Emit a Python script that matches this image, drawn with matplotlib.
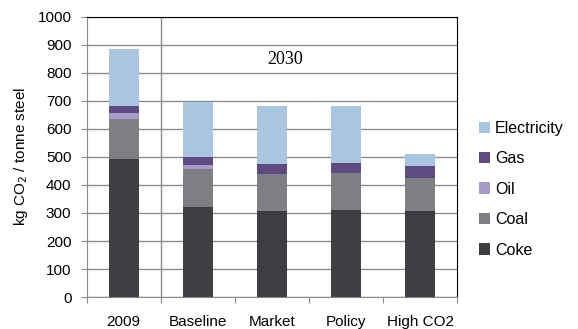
#!/usr/bin/env python3

import matplotlib.pyplot as plt
import numpy as np

# CO2 intensity of steel by energy carrier, kg CO2 per tonne
scenarios = [ '2009', 'Baseline', 'Market', 'Policy', 'High CO2' ]
coke = [ 493, 320, 308, 311, 306 ]
coal = [ 142, 136, 131, 131, 118 ]
oil = [ 22, 14, 0, 0, 0 ]
gas = [ 25, 29, 36, 38, 45 ]
electricity = [ 202, 197, 205, 202, 41 ]

layers = [ ( 'Coke', coke, '#3d3e42' ),
           ( 'Coal', coal, '#7e7f83' ),
           ( 'Oil', oil, '#a99bc9' ),
           ( 'Gas', gas, '#5f4b82' ),
           ( 'Electricity', electricity, '#a9c5e1' ) ]

plt.rcParams['font.family'] = [ 'Liberation Sans', 'DejaVu Sans' ]
fig = plt.figure( figsize = ( 5.78, 3.29 ), dpi = 100 )
ax = fig.add_axes( [ 0.150, 0.097, 0.641, 0.852 ] )

x = np.arange( len( scenarios ) )
bottom = np.zeros( len( scenarios ) )
handles = []
for name, values, color in layers:
    bars = ax.bar( x, values, width = 0.4, bottom = bottom, color = color, label = name, zorder = 2 )
    bottom += np.array( values )
    handles.append( bars )

ax.set_xlim( -0.5, len( scenarios ) - 0.5 )
ax.set_ylim( 0, 1000 )
ax.set_yticks( np.arange( 0, 1001, 100 ) )
ax.yaxis.grid( True, color = '#8c8c8c', linewidth = 1.0, zorder = 0 )
ax.set_axisbelow( True )

# category labels between the boundary ticks
ax.set_xticks( np.arange( -0.5, len( scenarios ), 1.0 ) )
ax.set_xticklabels( [] )
ax.set_xticks( x, minor = True )
ax.set_xticklabels( scenarios, minor = True )
ax.tick_params( axis = 'x', which = 'major', length = 4, color = '#8c8c8c', direction = 'out' )
ax.tick_params( axis = 'x', which = 'minor', length = 0, pad = 13, labelsize = 11 )
ax.tick_params( axis = 'y', length = 4, color = '#8c8c8c', labelsize = 11, pad = 7 )

ax.axvline( 0.5, color = '#8c8c8c', linewidth = 1.0, zorder = 1 )
ax.text( 2.18, 846, '2030', fontsize = 13, family = [ 'Liberation Serif', 'DejaVu Serif' ], ha = 'center', va = 'center' )

for side in [ 'left', 'bottom' ]:
    ax.spines[side].set_color( '#8c8c8c' )
for side in [ 'top', 'right' ]:
    ax.spines[side].set_color( 'black' )

ax.set_ylabel( 'kg CO$_2$ / tonne steel', fontsize = 11, labelpad = 5 )

ax.legend( handles[::-1], [ l[0] for l in layers[::-1] ], loc = 'center left', bbox_to_anchor = ( 1.02, 0.385 ),
           frameon = False, fontsize = 11.5, handlelength = 0.7, handleheight = 0.7, handletextpad = 0.3,
           labelspacing = 0.97 )

fig.savefig( 'out.png', dpi = 100 )
